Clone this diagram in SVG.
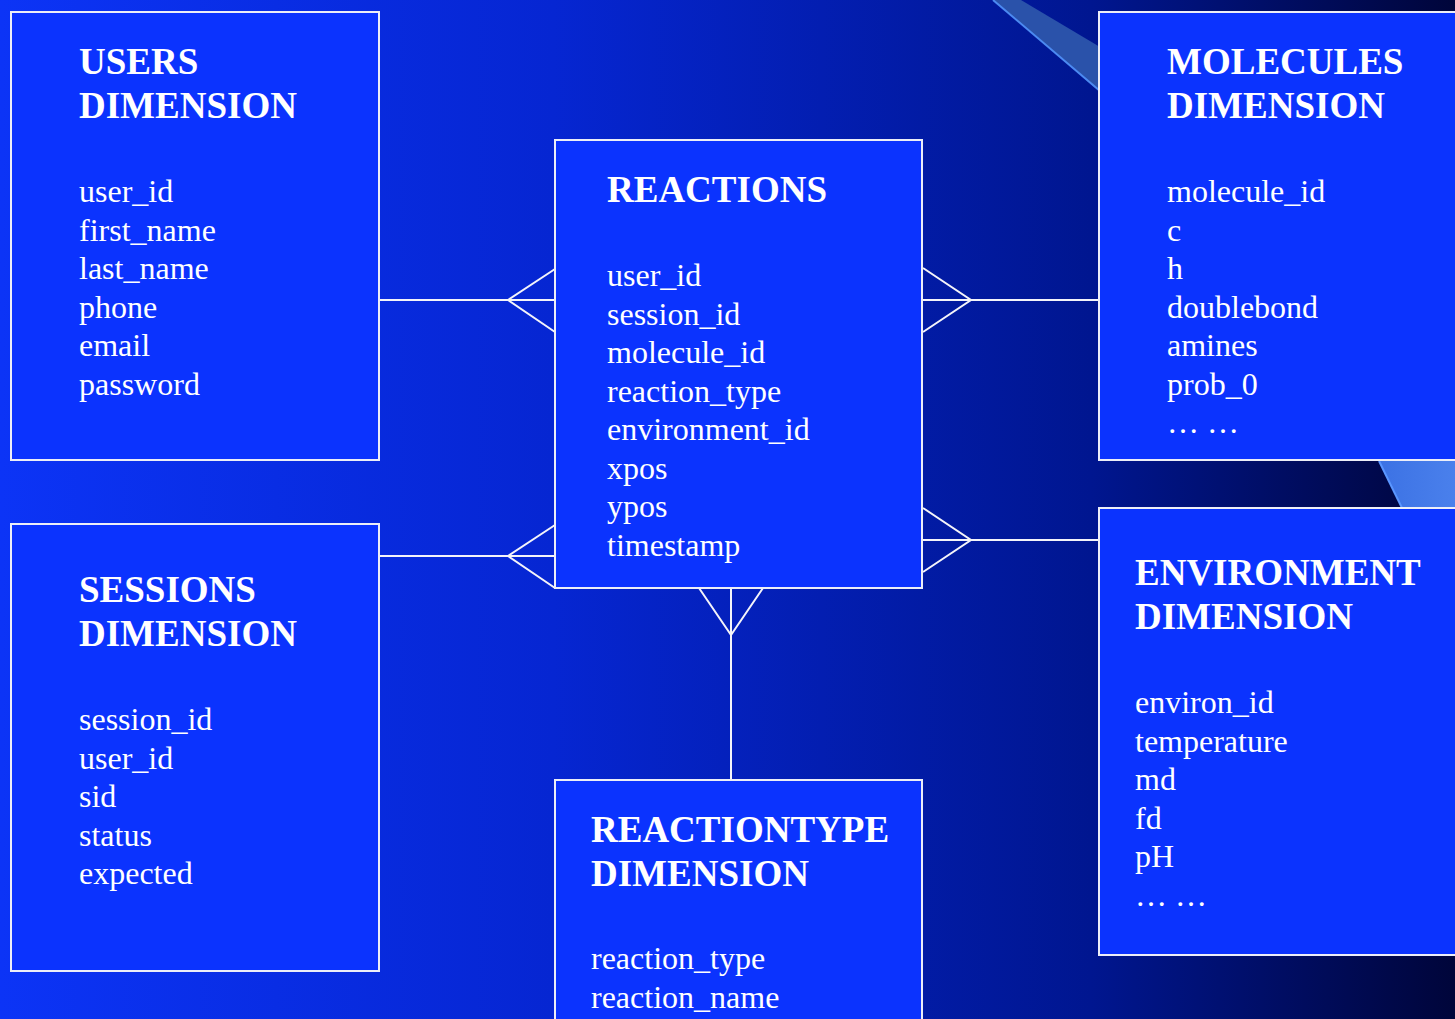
<svg xmlns="http://www.w3.org/2000/svg" width="1455" height="1019" viewBox="0 0 1455 1019">
<defs>
<linearGradient id="bg" gradientUnits="userSpaceOnUse" x1="0" y1="0" x2="1455" y2="0">
<stop offset="0" stop-color="#0c34f6"/>
<stop offset="0.38" stop-color="#0626d2"/>
<stop offset="0.75" stop-color="#001690"/>
<stop offset="1" stop-color="#00053a"/>
</linearGradient>
<linearGradient id="wedge2" gradientUnits="userSpaceOnUse" x1="1380" y1="0" x2="1455" y2="0">
<stop offset="0" stop-color="#3c72e4"/>
<stop offset="1" stop-color="#4a80ec"/>
</linearGradient>
</defs>
<style>
.box{fill:#0b33fe;stroke:#eceef8;stroke-width:2}
.conn{stroke:#f4f4fa;stroke-width:2;fill:none}
.t{font-family:"Liberation Serif","Times New Roman",serif;font-weight:bold;font-size:37px;fill:#ffffff}
.b{font-family:"Liberation Serif","Times New Roman",serif;font-size:32px;fill:#ffffff}
</style>
<rect x="0" y="0" width="1455" height="1019" fill="url(#bg)"/>
<polygon points="993,0 1021,0 1100,47 1100,92" fill="#2a52aa"/>
<line x1="993" y1="0" x2="1100" y2="91" stroke="#4c8af2" stroke-width="2"/>
<polygon points="1379,461 1455,461 1455,508 1402,508" fill="url(#wedge2)"/>
<line x1="1379" y1="461" x2="1402" y2="508" stroke="#5a96ff" stroke-width="2"/>

<g id="connectors">
<line class="conn" x1="379" y1="300" x2="555" y2="300"/>
<polyline class="conn" points="555,269 508,300 555,332"/>
<line class="conn" x1="923" y1="300" x2="1099" y2="300"/>
<polyline class="conn" points="923,268 971,300 923,332"/>
<line class="conn" x1="379" y1="556" x2="555" y2="556"/>
<polyline class="conn" points="555,525 508,556 555,588"/>
<line class="conn" x1="923" y1="540" x2="1099" y2="540"/>
<polyline class="conn" points="923,508 971,540 923,572"/>
<line class="conn" x1="731" y1="588" x2="731" y2="780"/>
<polyline class="conn" points="699,588 731,635 763,588"/>
</g>

<g id="users">
<rect class="box" x="11" y="12" width="368" height="448"/>
<text class="t" x="79" y="74">USERS</text>
<text class="t" x="79" y="118">DIMENSION</text>
<text class="b" x="79" y="202">user_id</text>
<text class="b" x="79" y="240.5">first_name</text>
<text class="b" x="79" y="279">last_name</text>
<text class="b" x="79" y="317.5">phone</text>
<text class="b" x="79" y="356">email</text>
<text class="b" x="79" y="394.5">password</text>
</g>

<g id="sessions">
<rect class="box" x="11" y="524" width="368" height="447"/>
<text class="t" x="79" y="602">SESSIONS</text>
<text class="t" x="79" y="646">DIMENSION</text>
<text class="b" x="79" y="730">session_id</text>
<text class="b" x="79" y="768.5">user_id</text>
<text class="b" x="79" y="807">sid</text>
<text class="b" x="79" y="845.5">status</text>
<text class="b" x="79" y="884">expected</text>
</g>

<g id="reactions">
<rect class="box" x="555" y="140" width="367" height="448"/>
<text class="t" x="607" y="202">REACTIONS</text>
<text class="b" x="607" y="286">user_id</text>
<text class="b" x="607" y="324.5">session_id</text>
<text class="b" x="607" y="363">molecule_id</text>
<text class="b" x="607" y="401.5">reaction_type</text>
<text class="b" x="607" y="440">environment_id</text>
<text class="b" x="607" y="478.5">xpos</text>
<text class="b" x="607" y="517">ypos</text>
<text class="b" x="607" y="555.5">timestamp</text>
</g>

<g id="reactiontype">
<rect class="box" x="555" y="780" width="367" height="260"/>
<text class="t" x="591" y="842">REACTIONTYPE</text>
<text class="t" x="591" y="886">DIMENSION</text>
<text class="b" x="591" y="969">reaction_type</text>
<text class="b" x="591" y="1008">reaction_name</text>
</g>

<g id="molecules">
<rect class="box" x="1099" y="12" width="370" height="448"/>
<text class="t" x="1167" y="74">MOLECULES</text>
<text class="t" x="1167" y="118">DIMENSION</text>
<text class="b" x="1167" y="202">molecule_id</text>
<text class="b" x="1167" y="240.5">c</text>
<text class="b" x="1167" y="279">h</text>
<text class="b" x="1167" y="317.5">doublebond</text>
<text class="b" x="1167" y="356">amines</text>
<text class="b" x="1167" y="394.5">prob_0</text>
<text class="b" x="1167" y="433">… …</text>
</g>

<g id="environment">
<rect class="box" x="1099" y="508" width="370" height="447"/>
<text class="t" x="1135" y="585">ENVIRONMENT</text>
<text class="t" x="1135" y="629">DIMENSION</text>
<text class="b" x="1135" y="713">environ_id</text>
<text class="b" x="1135" y="751.5">temperature</text>
<text class="b" x="1135" y="790">md</text>
<text class="b" x="1135" y="828.5">fd</text>
<text class="b" x="1135" y="867">pH</text>
<text class="b" x="1135" y="905.5">… …</text>
</g>
</svg>
